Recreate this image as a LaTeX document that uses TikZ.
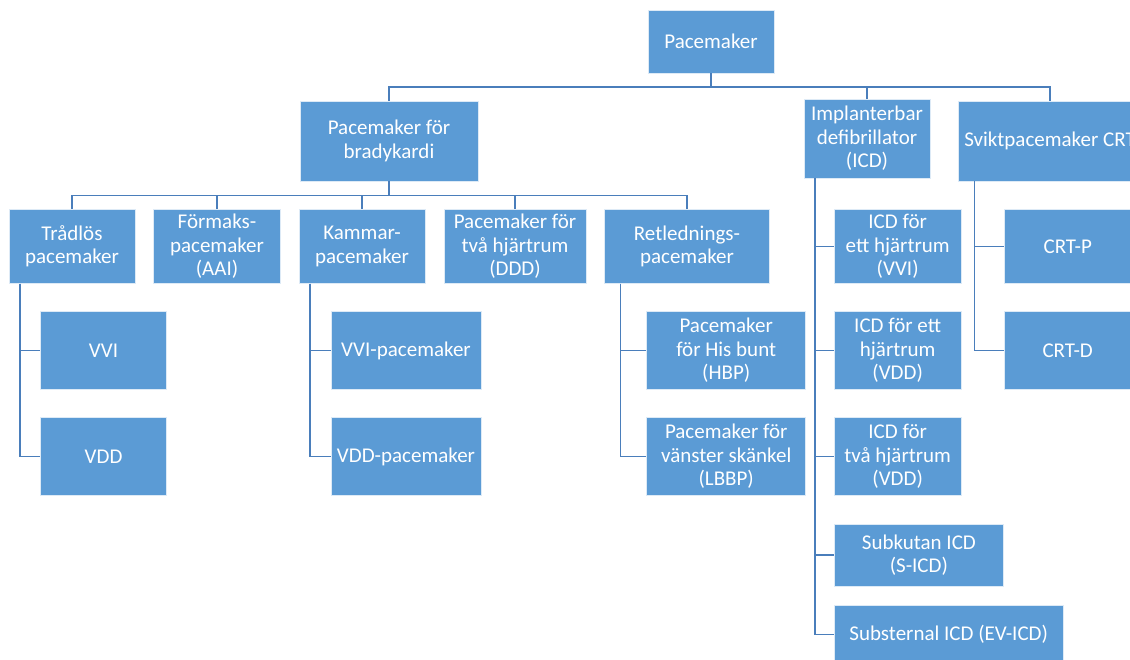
\documentclass[tikz,border=0pt]{standalone}
\usepackage{fontspec}
\setmainfont{Carlito}
\definecolor{boxfill}{HTML}{5B9BD5}
\definecolor{boxedge}{HTML}{DDEAF6}
\definecolor{wire}{HTML}{4A7EBB}
\begin{document}
\begin{tikzpicture}[x=1pt,y=-1pt,
  box/.style={fill=boxfill,draw=boxedge,line width=0.8pt,text=white,align=center,
    inner sep=1pt,font=\fontsize{21}{23.5}\selectfont},
  wirel/.style={draw=wire,line width=1.6pt}]
\useasboundingbox (0,0) rectangle (1130,659);
\fill[white] (0,0) rectangle (1130,659);
\clip (0,0) rectangle (1130,659);
% level 0
\node[box,minimum width=126pt,minimum height=63pt] (pm) at (711,41.5) {Pacemaker};
% level 1
\node[box,minimum width=178pt,minimum height=80pt] (brady) at (389,141) {Pacemaker för\\bradykardi};
\node[box,minimum width=126pt,minimum height=79pt] (icd) at (867,138.5) {Implanterbar\\defibrillator\\(ICD)};
\node[box,minimum width=184pt,minimum height=80pt] (svikt) at (1050,141) {Sviktpacemaker CRT};
% level 2 under bradykardi
\node[box,minimum width=126pt,minimum height=74pt] (trad) at (72,246.3) {Trådlös\\pacemaker};
\node[box,minimum width=126.5pt,minimum height=74pt] (form) at (217,246.3) {Förmaks-\\pacemaker\\(AAI)};
\node[box,minimum width=126pt,minimum height=74pt] (kammar) at (362,246.3) {Kammar-\\pacemaker};
\node[box,minimum width=142pt,minimum height=74pt] (tva) at (515,246.3) {Pacemaker för\\två hjärtrum\\(DDD)};
\node[box,minimum width=165pt,minimum height=74pt] (ret) at (687,246.3) {Retlednings-\\pacemaker};
% level 3
\node[box,minimum width=126.4pt,minimum height=77.6pt] (vvi) at (103.6,350.5) {VVI};
\node[box,minimum width=126.4pt,minimum height=77.6pt] (vdd) at (103.6,456.5) {VDD};
\node[box,minimum width=150pt,minimum height=77.6pt] (vvipm) at (406,350.5) {VVI-pacemaker};
\node[box,minimum width=150pt,minimum height=77.6pt] (vddpm) at (406,456.5) {VDD-pacemaker};
\node[box,minimum width=159pt,minimum height=77.6pt] (hbp) at (726.2,350.5) {Pacemaker\\för His bunt\\(HBP)};
\node[box,minimum width=159pt,minimum height=77.6pt] (lbbp) at (726.2,456.5) {Pacemaker för\\vänster skänkel\\(LBBP)};
% ICD children
\node[box,minimum width=126.5pt,minimum height=74pt] (icda) at (897.7,246.3) {ICD för\\ett hjärtrum\\(VVI)};
\node[box,minimum width=126.5pt,minimum height=77.6pt] (icdb) at (897.7,350.5) {ICD för ett\\hjärtrum\\(VDD)};
\node[box,minimum width=126.5pt,minimum height=77.6pt] (icdc) at (897.7,456.5) {ICD för\\två hjärtrum\\(VDD)};
\node[box,minimum width=168.7pt,minimum height=62pt] (sicd) at (918.9,555) {Subkutan ICD\\(S-ICD)};
\node[box,minimum width=228.5pt,minimum height=59pt] (evicd) at (948.7,634.5) {Substernal ICD (EV-ICD)};
% CRT children
\node[box,minimum width=127.5pt,minimum height=74pt] (crtp) at (1067.7,246.3) {CRT-P};
\node[box,minimum width=127.5pt,minimum height=77.6pt] (crtd) at (1067.7,350.5) {CRT-D};
% connectors level 0 -> 1
\draw[wirel] (pm.south) -- ++(0,13.7) -| (brady.north);
\draw[wirel] (pm.south) -- ++(0,13.7) -| (icd.north);
\draw[wirel] (pm.south) -- ++(0,13.7) -| (svikt.north);
% bradykardi -> level 2
\foreach \t in {trad,form,kammar,tva,ret}
  \draw[wirel] (brady.south) -- ++(0,14) -| (\t.north);
% level 2 -> level 3
\draw[wirel] ([xshift=11.5pt]trad.south west) |- (vvi.west);
\draw[wirel] ([xshift=11.5pt]trad.south west) |- (vdd.west);
\draw[wirel] ([xshift=11.6pt]kammar.south west) |- (vvipm.west);
\draw[wirel] ([xshift=11.6pt]kammar.south west) |- (vddpm.west);
\draw[wirel] ([xshift=16.4pt]ret.south west) |- (hbp.west);
\draw[wirel] ([xshift=16.4pt]ret.south west) |- (lbbp.west);
\foreach \t in {icda,icdb,icdc,sicd,evicd}
  \draw[wirel] ([xshift=11.5pt]icd.south west) |- (\t.west);
\foreach \t in {crtp,crtd}
  \draw[wirel] ([xshift=17pt]svikt.south west) |- (\t.west);
\end{tikzpicture}
\end{document}
